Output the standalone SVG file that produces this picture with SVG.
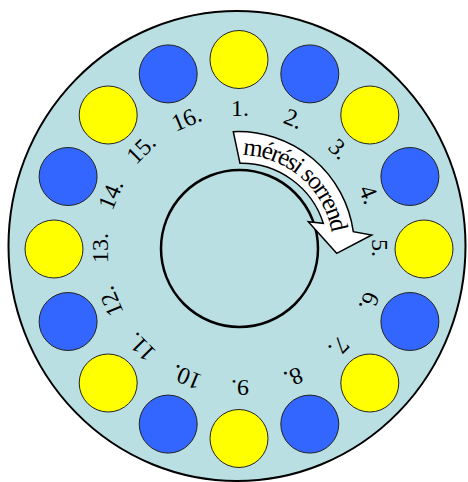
<svg xmlns="http://www.w3.org/2000/svg" width="468" height="482" viewBox="0 0 468 482">
<style>
.y{fill:#FFFF00;stroke:#222;stroke-width:1}
.b{fill:#3366FF;stroke:#222;stroke-width:1}
.n{font-family:"Liberation Serif","Times New Roman",serif;font-size:24px;fill:#000;text-anchor:middle}
.a{font-family:"Liberation Serif","Times New Roman",serif;font-size:25px;fill:#000}
</style>
<rect width="468" height="482" fill="#fff"/>
<g id="plate">
<ellipse cx="237" cy="246" rx="228.5" ry="235" fill="#B9DFE2" stroke="#000" stroke-width="2"/>
</g>
<g id="wells">
<circle class="y" cx="239" cy="59.5" r="29"/>
<circle class="b" cx="309.8" cy="73.9" r="29"/>
<circle class="y" cx="369.8" cy="115" r="29"/>
<circle class="b" cx="409.9" cy="176.5" r="29"/>
<circle class="y" cx="424" cy="249" r="29"/>
<circle class="b" cx="409.9" cy="321.5" r="29"/>
<circle class="y" cx="369.8" cy="383" r="29"/>
<circle class="b" cx="309.8" cy="424.1" r="29"/>
<circle class="y" cx="239" cy="438.5" r="29"/>
<circle class="b" cx="168.2" cy="424.1" r="29"/>
<circle class="y" cx="108.2" cy="383" r="29"/>
<circle class="b" cx="68.1" cy="321.5" r="29"/>
<circle class="y" cx="54" cy="249" r="29"/>
<circle class="b" cx="68.1" cy="176.5" r="29"/>
<circle class="y" cx="108.2" cy="115" r="29"/>
<circle class="b" cx="168.2" cy="73.9" r="29"/>
</g>
<g id="labels">
<text class="n" x="240" y="116" transform="rotate(0 240 248)">1.</text>
<text class="n" x="240" y="116" transform="rotate(22.5 240 248)">2.</text>
<text class="n" x="240" y="116" transform="rotate(45 240 248)">3.</text>
<text class="n" x="240" y="116" transform="rotate(67.5 240 248)">4.</text>
<text class="n" x="240" y="116" transform="rotate(90 240 248)">5.</text>
<text class="n" x="240" y="116" transform="rotate(112.5 240 248)">6.</text>
<text class="n" x="240" y="116" transform="rotate(135 240 248)">7.</text>
<text class="n" x="240" y="116" transform="rotate(157.5 240 248)">8.</text>
<text class="n" x="240" y="116" transform="rotate(180 240 248)">9.</text>
<text class="n" x="240" y="116" transform="rotate(202.5 240 248)">10.</text>
<text class="n" x="240" y="116" transform="rotate(225 240 248)">11.</text>
<text class="n" x="240" y="116" transform="rotate(247.5 240 248)">12.</text>
<text class="n" x="240" y="116" transform="rotate(270 240 248)">13.</text>
<text class="n" x="240" y="116" transform="rotate(292.5 240 248)">14.</text>
<text class="n" x="240" y="116" transform="rotate(315 240 248)">15.</text>
<text class="n" x="240" y="116" transform="rotate(337.5 240 248)">16.</text>
</g>
<g id="center">
<circle cx="239.5" cy="248.5" r="78.5" fill="none" stroke="#000" stroke-width="2.5"/>
</g>
<g id="arrow">
<defs><path id="tp" d="M 242.5 155 A 93 93 0 0 1 332.6 239.9"/></defs>
<path d="M 233.3 131.7 A 116 116 0 0 1 353.3 231.7 L 371.7 235 L 336.7 253.3 L 308.3 221.7 L 323.3 223.3 A 86 86 0 0 0 240 163.3 Z" fill="#fff" stroke="#000" stroke-width="1.5" stroke-linejoin="miter"/>
<text class="a"><textPath href="#tp" textLength="128" lengthAdjust="spacing">mérési sorrend</textPath></text>
</g>
</svg>
